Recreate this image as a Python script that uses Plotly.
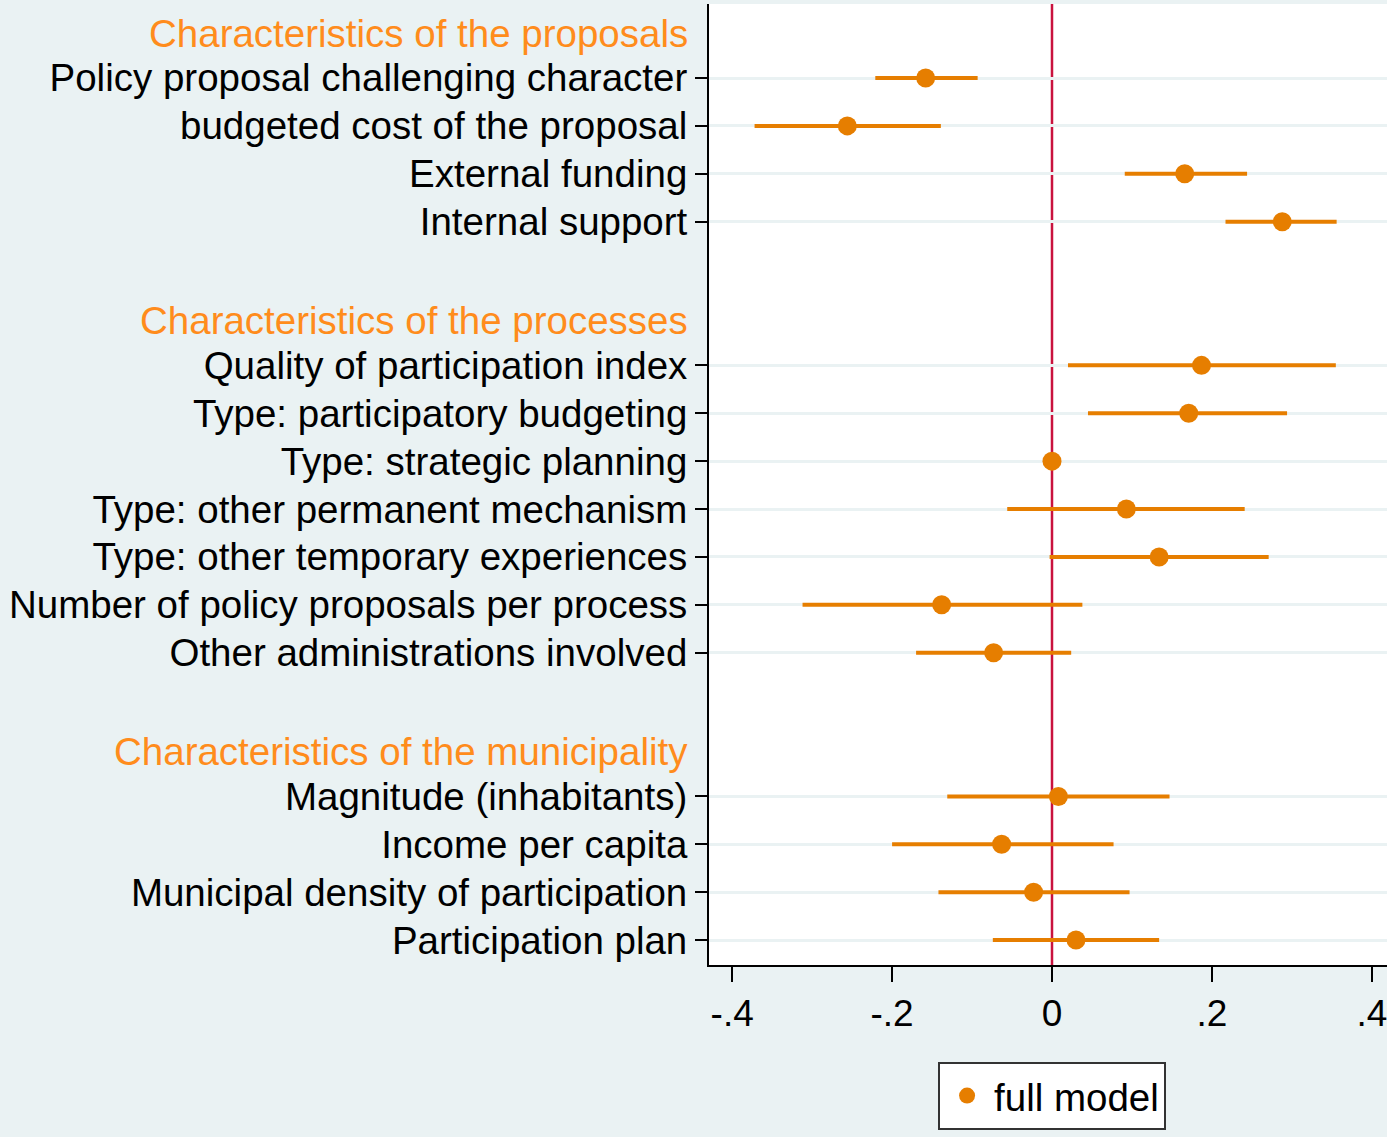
import plotly.graph_objects as go

# ---- data ----
group_titles = [
    "Characteristics of the proposals",
    "Characteristics of the processes",
    "Characteristics of the municipality",
]
group_vars = [
    ["Policy proposal challenging character", "budgeted cost of the proposal",
     "External funding", "Internal support"],
    ["Quality of participation index", "Type: participatory budgeting",
     "Type: strategic planning", "Type: other permanent mechanism",
     "Type: other temporary experiences", "Number of policy proposals per process",
     "Other administrations involved"],
    ["Magnitude (inhabitants)", "Income per capita",
     "Municipal density of participation", "Participation plan"],
]
coef = [-0.158, -0.256, 0.166, 0.288,
        0.187, 0.171, 0.000, 0.093, 0.134, -0.138, -0.073,
        0.008, -0.063, -0.023, 0.030]
ci_low = [-0.221, -0.372, 0.091, 0.217,
          0.020, 0.045, -0.003, -0.056, -0.003, -0.312, -0.170,
          -0.131, -0.200, -0.142, -0.074]
ci_high = [-0.093, -0.139, 0.244, 0.356,
           0.355, 0.294, 0.003, 0.241, 0.271, 0.038, 0.024,
           0.147, 0.077, 0.097, 0.134]
x_ticks = [-0.4, -0.2, 0, 0.2, 0.4]
x_ticklabels = ["-.4", "-.2", "0", ".2", ".4"]
series_name = "full model"

# ---- row layout ----
labels, ypos, header_pos = [], [], []
row = -1
for title, vars_ in zip(group_titles, group_vars):
    header_pos.append(row)
    row += 1
    for v in vars_:
        labels.append(v)
        ypos.append(row)
        row += 1
    row += 1  # blank line between groups

BG = "#eaf2f3"
ORANGE = "#e67e00"
HEAD = "#ff8c1c"
RED = "#c9123e"
FONT = "Liberation Sans"
FS = 38.5

fig = go.Figure()
fig.add_trace(go.Scatter(
    x=coef, y=ypos, mode="markers", name=series_name,
    marker=dict(color=ORANGE, size=19, symbol="circle"),
    error_x=dict(type="data", symmetric=False,
                 array=[h - c for h, c in zip(ci_high, coef)],
                 arrayminus=[c - l for c, l in zip(coef, ci_low)],
                 color=ORANGE, thickness=4, width=0),
    showlegend=True,
))

fig.add_shape(type="line", xref="x", yref="paper", x0=0, x1=0, y0=0, y1=1,
              line=dict(color=RED, width=2.5), layer="between")

for t, p in zip(group_titles, header_pos):
    fig.add_annotation(text=t, x=0, xref="paper", y=p, yref="y",
                       xanchor="right", yanchor="middle", xshift=-19, yshift=-3,
                       showarrow=False, font=dict(family=FONT, size=FS, color=HEAD))

fig.update_layout(
    width=1387, height=1137,
    margin=dict(l=709, r=0, t=4, b=172),
    paper_bgcolor=BG, plot_bgcolor="white",
    font=dict(family=FONT, size=FS, color="black"),
    showlegend=True,
    legend=dict(x=0.506, xanchor="center", y=-0.101, yanchor="top",
                bgcolor="white", bordercolor="#333333", borderwidth=2,
                itemwidth=44,
                font=dict(family=FONT, size=FS, color="black")),
    xaxis=dict(range=[-0.429, 0.419], tickvals=x_ticks, ticktext=x_ticklabels,
               showgrid=False, zeroline=False, showline=True, linecolor="black",
               linewidth=2, ticks="outside", ticklen=15, tickwidth=2,
               tickcolor="black", tickfont=dict(size=37),
               ticklabeloverflow="allow"),
    yaxis=dict(range=[18.52, -1.545], tickvals=ypos, ticktext=labels,
               showgrid=True, gridcolor=BG, gridwidth=3, zeroline=False,
               showline=True, linecolor="black", linewidth=2,
               ticks="outside", ticklen=12, tickwidth=2, tickcolor="black",
               tickfont=dict(size=FS)),
)

fig.write_html("out.html", config={"displayModeBar": False},
               post_script="document.body.style.margin='0px';")
